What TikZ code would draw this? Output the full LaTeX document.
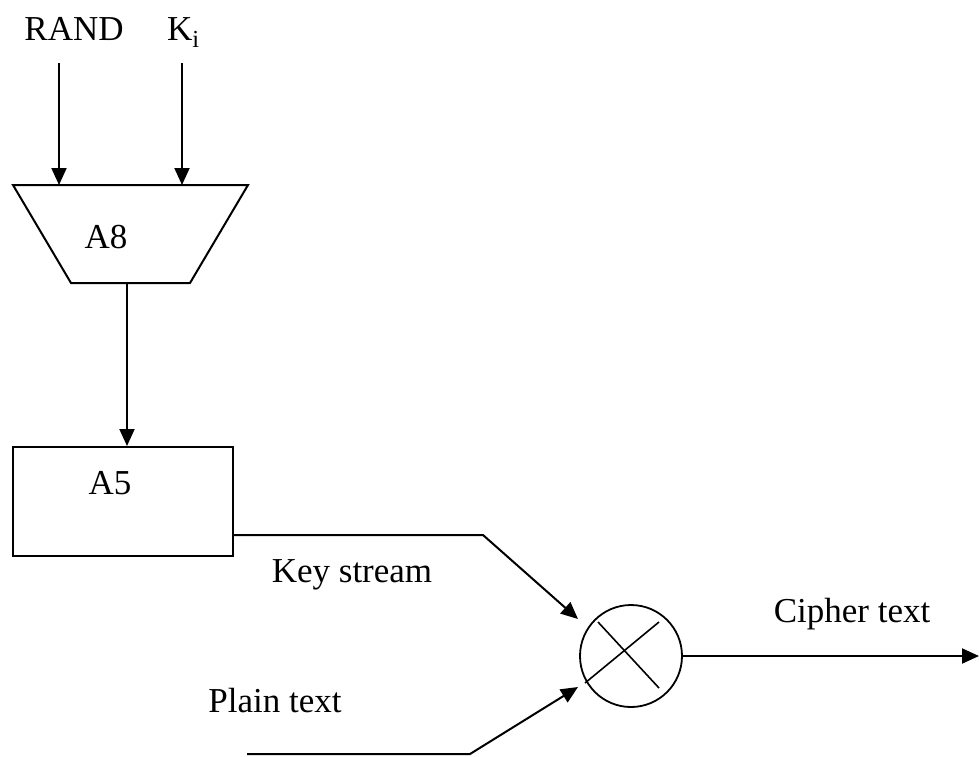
\documentclass[tikz,border=0pt]{standalone}
\usepackage{fontspec}
\setmainfont{Liberation Serif}
\usetikzlibrary{arrows.meta}
\begin{document}
\begin{tikzpicture}[x=1pt,y=-1pt,
  wire/.style={line width=2pt,line join=miter},
  flow/.style={wire,-{Triangle[length=17pt,width=15pt]}},
  lbl/.style={font=\fontsize{35}{40}\selectfont,inner sep=0pt,anchor=base},
  box/.style={draw,line width=2pt,rectangle,minimum width=220pt,minimum height=109pt,inner sep=0pt},
  mixer/.style={draw,line width=1.8pt,circle,minimum size=102pt,inner sep=0pt}]
\useasboundingbox (0,0) rectangle (979,756);

% inputs
\node[lbl] (rand) at (74,40) {RAND};
\node[lbl,anchor=base west] (ki) at (167,40) {K\textsubscript{i}};

% A8 (trapezoid)
\coordinate (tl) at (13,185);
\coordinate (tr) at (248,185);
\coordinate (br) at (190,283);
\coordinate (bl) at (71,283);
\draw[wire] (tl) -- (tr) -- (br) -- (bl) -- cycle;
\node[lbl] (a8) at (106,248) {A8};

\coordinate (randout) at (59,63);
\coordinate (randin) at (59,185);
\coordinate (kiout) at (182,63);
\coordinate (kiin) at (182,185);
\draw[flow] (randout) -- (randin);
\draw[flow] (kiout) -- (kiin);

% A5 (rectangle)
\node[box] (a5) at (123,501.5) {};
\node[lbl] (a5t) at (110,494) {A5};
\coordinate (a8out) at (127,283);
\draw[flow] (a8out) -- (a8out |- a5.north);

% combiner
\node[mixer] (mix) at (631,656) {};
\draw[line width=1.6pt] (598,622) -- (659,688);
\draw[line width=1.6pt] (659,622) -- (585,683);

% key stream
\coordinate (ks0) at (233,535);
\coordinate (ks1) at (483,535);
\coordinate (ks2) at (578,619);
\draw[flow] (ks0) -- (ks1) -- (ks2);
\node[lbl] (kst) at (352,582) {Key stream};

% plain text
\coordinate (pt0) at (247,754);
\coordinate (pt1) at (470,754);
\coordinate (pt2) at (578,687);
\draw[flow] (pt0) -- (pt1) -- (pt2);
\node[lbl] (ptt) at (275,712) {Plain text};

% cipher text
\coordinate (ctend) at (979,656);
\draw[flow] (mix.east) -- (ctend);
\node[lbl] (ctt) at (852,622) {Cipher text};
\end{tikzpicture}
\end{document}
